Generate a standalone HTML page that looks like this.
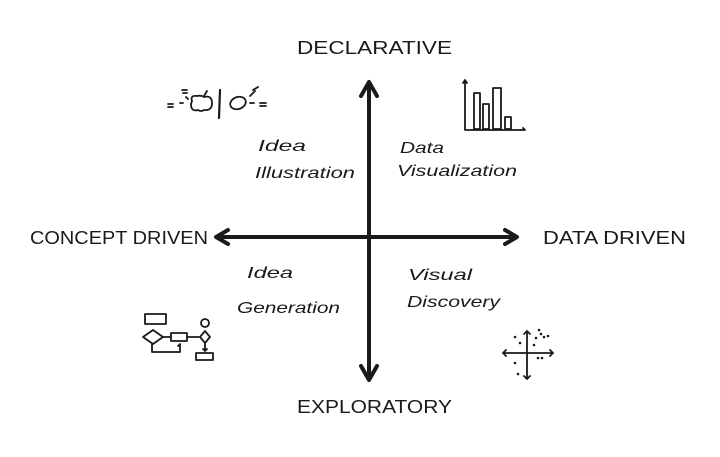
<!DOCTYPE html>
<html><head><meta charset="utf-8"><style>
html,body{margin:0;padding:0;background:#fff;width:720px;height:457px;overflow:hidden}
text{font-family:"Liberation Sans",sans-serif;fill:#1a1a1a}
.t{font-size:18px}
.q{font-size:16px;font-style:italic}
</style></head><body>
<svg width="720" height="457" viewBox="0 0 720 457" xmlns="http://www.w3.org/2000/svg" fill="none" stroke="#1a1a1a" stroke-linecap="round" stroke-linejoin="round">
<line x1="369" y1="84" x2="369" y2="378" stroke-width="4"/>
<polyline points="361,96 369,82 377,96" stroke-width="4"/>
<polyline points="361,366 369,380 377,366" stroke-width="4"/>
<line x1="217" y1="237" x2="516" y2="237" stroke-width="4"/>
<polyline points="228,230 216,237 228,244" stroke-width="4"/>
<polyline points="505,230 517,237 505,244" stroke-width="4"/>
<g stroke="none">
<text class="t" x="297" y="54" textLength="155" lengthAdjust="spacingAndGlyphs">DECLARATIVE</text>
<text class="t" x="30" y="244" textLength="178" lengthAdjust="spacingAndGlyphs">CONCEPT DRIVEN</text>
<text class="t" x="543" y="244" textLength="143" lengthAdjust="spacingAndGlyphs">DATA DRIVEN</text>
<text class="t" x="297" y="413" textLength="155" lengthAdjust="spacingAndGlyphs">EXPLORATORY</text>
<text class="q" x="258" y="151" textLength="48" lengthAdjust="spacingAndGlyphs">Idea</text>
<text class="q" x="255" y="178" textLength="100" lengthAdjust="spacingAndGlyphs">Illustration</text>
<text class="q" x="400" y="153" textLength="44" lengthAdjust="spacingAndGlyphs">Data</text>
<text class="q" x="397" y="176" textLength="120" lengthAdjust="spacingAndGlyphs">Visualization</text>
<text class="q" x="247" y="278" textLength="46" lengthAdjust="spacingAndGlyphs">Idea</text>
<text class="q" x="237" y="313" textLength="103" lengthAdjust="spacingAndGlyphs">Generation</text>
<text class="q" x="408" y="280" textLength="64" lengthAdjust="spacingAndGlyphs">Visual</text>
<text class="q" x="407" y="307" textLength="93" lengthAdjust="spacingAndGlyphs">Discovery</text>
</g>
<g stroke-width="1.8">
<path d="M192,101 q-2,-6 5,-5 q4,-1 7,1 q8,-2 8,6 q0,8 -8,7 q-3,2 -6,0 q-7,2 -7,-6z"/>
<path d="M204,96 l3,-5"/>
<line x1="220" y1="90" x2="219" y2="118" stroke-width="2.2"/>
<ellipse cx="238" cy="103" rx="8" ry="6" transform="rotate(-20 238 103)"/>
<path d="M168,104 h5 M168,107 h5 M180,103 h3 M182,90 h5 M183,93 h4 M186,97 l2,2 M253,90 l5,-3 M250,96 l5,-5 M250,103 h4 M260,103 h6 M260,106 h6"/>
</g>
<g stroke-width="1.8">
<path d="M465,80 v50 h60 l-2,-2 M463,83 l2,-3 2,3"/>
<rect x="474" y="93" width="6" height="36"/>
<rect x="483" y="104" width="6" height="25"/>
<rect x="493" y="88" width="8" height="41"/>
<rect x="505" y="117" width="6" height="12"/>
</g>
<g stroke-width="1.8">
<rect x="145" y="314" width="21" height="10"/>
<path d="M143,337 l10,-7 10,7 -10,7z"/>
<path d="M163,337 h8"/>
<rect x="171" y="333" width="16" height="8"/>
<path d="M187,337 h12 M152,344 v8 h28 v-8 l-2,2"/>
<ellipse cx="205" cy="323" rx="4" ry="4"/>
<path d="M205,331 l5,6 -5,6 -5,-6z M205,343 v8 l-2,-2 M205,351 l2,-2"/>
<rect x="196" y="353" width="17" height="7"/>
</g>
<g stroke-width="1.8">
<path d="M503,353 h50 M527,331 v48 M524,334 l3,-3 3,3 M524,376 l3,3 3,-3 M506,350 l-3,3 3,3 M550,350 l3,3 -3,3"/>
</g>
<g fill="#1a1a1a" stroke="none">
<circle cx="515" cy="337" r="1.3"/><circle cx="520" cy="343" r="1.3"/><circle cx="536" cy="338" r="1.3"/>
<circle cx="541" cy="334" r="1.3"/><circle cx="544" cy="337" r="1.3"/><circle cx="548" cy="336" r="1.3"/>
<circle cx="539" cy="330" r="1.3"/><circle cx="534" cy="345" r="1.3"/><circle cx="538" cy="358" r="1.3"/>
<circle cx="542" cy="358" r="1.3"/><circle cx="515" cy="363" r="1.3"/><circle cx="518" cy="374" r="1.3"/>
</g>
</svg>
</body></html>
